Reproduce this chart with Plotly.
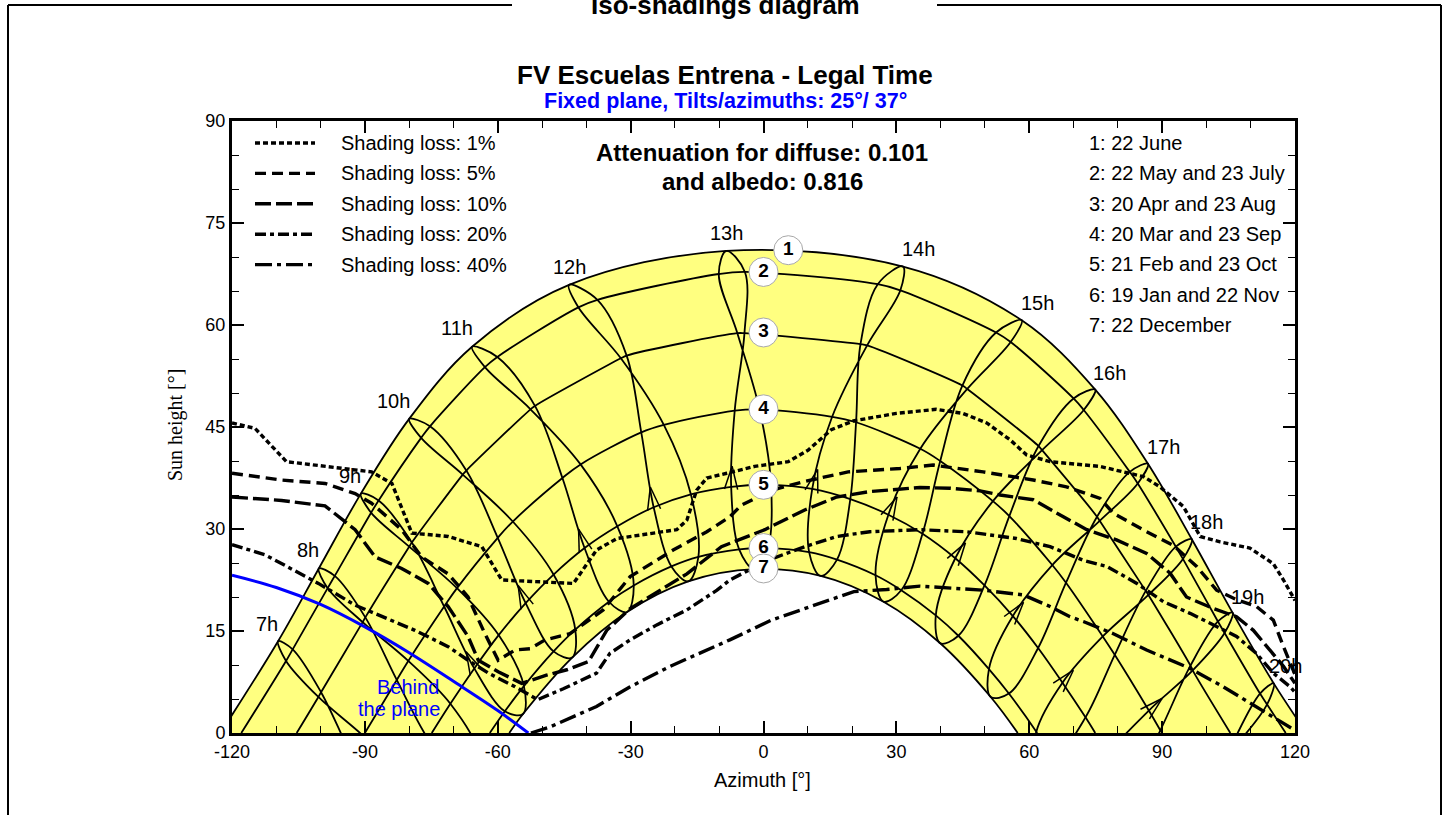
import math
import plotly.graph_objects as go

# ---------------------------------------------------------------------------
# Data
# ---------------------------------------------------------------------------
HOURS = list(range(7, 21))
HOUR_LABELS = [f"{h}h" for h in HOURS]

# Sun position (azimuth, height in degrees) at each legal hour 7h..20h
AZ_DEC22 = [-73.5, -64.2, -54.3, -43.2, -30.8, -17.0, -2.1, 12.9, 27.1, 39.9, 51.3, 61.5, 71.0, 80.1]
EL_DEC22 = [-17.0, -6.7, 2.8, 11.1, 17.8, 22.3, 24.1, 23.1, 19.3, 13.2, 5.3, -4.0, -14.1, -24.8]
AZ_JAN19 = [-77.9, -68.4, -58.4, -47.4, -34.9, -20.8, -5.5, 10.3, 25.3, 38.9, 50.9, 61.6, 71.4, 80.8]
EL_JAN19 = [-17.3, -6.7, 3.2, 12.0, 19.3, 24.5, 27.0, 26.6, 23.2, 17.3, 9.4, 0.2, -9.9, -20.7]
AZ_FEB21 = [-85.7, -75.7, -65.3, -53.7, -40.4, -24.8, -7.3, 11.0, 28.2, 43.3, 56.3, 67.5, 77.8, 87.8]
EL_FEB21 = [-11.8, -0.9, 9.5, 19.1, 27.2, 33.2, 36.2, 35.9, 32.1, 25.7, 17.2, 7.4, -3.1, -14.1]
AZ_MAR20 = [-93.0, -82.8, -72.1, -60.0, -45.4, -27.6, -6.5, 15.5, 35.4, 51.8, 65.2, 76.6, 87.0, 97.2]
EL_MAR20 = [-3.3, 7.8, 18.6, 28.7, 37.5, 44.2, 47.4, 46.5, 41.8, 34.1, 24.7, 14.2, 3.3, -7.8]
AZ_APR20 = [-99.9, -89.9, -79.4, -67.1, -51.6, -30.9, -4.3, 23.4, 46.0, 62.9, 75.9, 86.9, 96.9, 106.9]
EL_APR20 = [6.0, 17.0, 28.0, 38.6, 48.1, 55.5, 58.8, 57.0, 50.6, 41.6, 31.2, 20.3, 9.2, -1.6]
AZ_MAY22 = [-106.3, -96.8, -86.9, -75.3, -60.1, -37.5, -4.2, 30.9, 55.8, 72.3, 84.5, 94.7, 104.1, 113.7]
EL_MAY22 = [12.3, 23.1, 34.2, 45.1, 55.3, 63.7, 67.8, 65.1, 57.5, 47.5, 36.7, 25.6, 14.7, 4.2]
AZ_JUN22 = [-109.6, -100.4, -90.9, -80.0, -65.8, -43.9, -8.4, 31.5, 58.3, 74.9, 86.8, 96.7, 105.9, 115.2]
EL_JUN22 = [13.5, 24.2, 35.2, 46.2, 56.8, 65.9, 70.9, 68.6, 60.7, 50.5, 39.6, 28.5, 17.7, 7.3]
AZ_JUL23 = [-107.8, -98.4, -88.6, -77.3, -62.9, -41.8, -10.1, 25.8, 52.5, 70.0, 82.7, 93.1, 102.6, 112.1]
EL_JUL23 = [10.6, 21.3, 32.4, 43.4, 53.8, 62.6, 67.5, 66.0, 58.9, 49.2, 38.4, 27.4, 16.4, 5.8]
AZ_AUG23 = [-100.5, -90.5, -80.0, -67.9, -52.6, -32.2, -5.9, 21.9, 44.9, 62.1, 75.3, 86.3, 96.4, 106.3]
EL_AUG23 = [5.3, 16.3, 27.4, 38.0, 47.6, 55.1, 58.8, 57.2, 51.1, 42.2, 31.8, 20.9, 9.9, -1.0]
AZ_SEP23 = [-90.4, -80.2, -69.2, -56.6, -41.3, -22.5, -0.9, 20.9, 39.9, 55.5, 68.3, 79.3, 89.6, 99.8]
EL_SEP23 = [-0.4, 10.6, 21.3, 31.1, 39.5, 45.3, 47.6, 45.7, 40.0, 31.9, 22.1, 11.5, 0.4, -10.6]
AZ_OCT23 = [-80.8, -70.7, -59.8, -47.4, -33.0, -16.4, 1.7, 19.6, 35.9, 49.9, 62.0, 72.7, 82.7, 92.7]
EL_OCT23 = [-6.4, 4.3, 14.4, 23.3, 30.4, 35.1, 36.5, 34.4, 29.3, 21.7, 12.5, 2.3, -8.5, -19.5]
AZ_NOV22 = [-74.0, -64.4, -54.1, -42.5, -29.3, -14.7, 1.0, 16.6, 31.1, 44.0, 55.4, 65.7, 75.2, 84.7]
EL_NOV22 = [-12.9, -2.6, 6.9, 15.2, 21.7, 25.9, 27.2, 25.5, 21.0, 14.3, 5.8, -3.8, -14.3, -25.2]

# Sunrise / sunset azimuth of each date path (1..7)
SUNRISE_AZ = [122.6, 117.9, 105.4, 90.0, 74.9, 61.8, 57.4]

DATE_LEGEND = ["1: 22 June", "2: 22 May and 23 July", "3: 20 Apr and 23 Aug",
               "4: 20 Mar and 23 Sep", "5: 21 Feb and 23 Oct", "6: 19 Jan and 22 Nov",
               "7: 22 December"]
DATE_TAG_AZ = [5.6, 0.0, 0.0, 0.0, 0.0, 0.0, 0.0]
DATE_TAG_EL = [71.0, 67.8, 58.9, 47.6, 36.5, 27.2, 24.2]

HOUR_LABEL_AZ = [-112.0, -102.8, -93.4, -83.6, -69.3, -43.9, -8.3, 35.1, 61.8, 78.1, 90.2, 100.1, 109.2, 117.9]
HOUR_LABEL_EL = [16.1, 26.9, 37.8, 48.8, 59.6, 68.5, 73.5, 71.2, 63.3, 53.0, 42.1, 31.0, 20.0, 9.8]

X_TICKS = [-120, -90, -60, -30, 0, 30, 60, 90, 120]
Y_TICKS = [0, 15, 30, 45, 60, 75, 90]

# Iso-shading curves
ISO_LABELS = ["Shading loss: 1%", "Shading loss: 5%", "Shading loss: 10%",
              "Shading loss: 20%", "Shading loss: 40%"]
ISO_1_AZ = [-120, -114.8, -107.7, -95.2, -88.5, -83.9, -79.4, -71.2, -63.6, -59.1, -52.7, -42.9,
            -37.7, -33.1, -19.6, -17.3, -15.1, -12.8, -8.3, -2.0, 5.6, 10.1, 15.3, 20.3, 30.0,
            39.0, 45.0, 50.4, 55.7, 59.4, 64.7, 76.0, 85.8, 89.5, 94.8, 98.6, 103.1, 109.8,
            115.1, 117.4, 120]
ISO_1_EL = [45.6, 44.8, 39.9, 38.9, 38.4, 36.7, 29.4, 28.9, 27.4, 22.5, 22.3, 22.0,
            26.9, 28.6, 29.9, 31.3, 35.7, 37.5, 38.2, 39.2, 39.9, 41.6, 44.6, 45.9, 47.0,
            47.6, 47.0, 45.6, 43.1, 40.9, 39.9, 39.2, 37.7, 36.2, 33.3, 28.9, 28.1, 27.2,
            24.9, 22.5, 19.5]
ISO_5_AZ = [-120, -108.8, -99.0, -92.2, -88.5, -81.7, -77.2, -71.2, -66.7, -62.9, -59.9, -56.1,
            -52.7, -49.3, -43.7, -36.2, -30.1, -20.4, -12.8, -7.6, -5.0, 1.8, 9.3, 19.1, 30.8,
            38.3, 49.6, 60.9, 68.4, 76.0, 79.0, 86.5, 92.5, 97.8, 102.3, 106.8, 111.3, 115.1,
            117.4, 119.3, 120]
ISO_5_EL = [38.2, 37.2, 36.7, 35.2, 33.8, 29.9, 25.9, 23.4, 20.0, 14.6, 10.7, 12.2,
            12.4, 13.7, 14.6, 18.1, 23.0, 26.9, 29.6, 31.8, 33.5, 35.7, 37.0, 38.4, 38.9,
            39.4, 38.4, 37.2, 36.2, 34.5, 32.3, 29.6, 27.6, 24.5, 21.0, 19.6, 18.6, 16.6,
            12.7, 9.8, 8.6]
ISO_10_AZ = [-120, -108.8, -99.0, -92.2, -87.7, -81.7, -75.7, -71.2, -66.7, -64.4, -59.9, -54.6,
             -49.0, -44.4, -39.5, -35.4, -30.1, -23.4, -17.3, -9.5, 0.3, 9.3, 16.5, 24.0, 35.3,
             42.1, 48.9, 53.4, 60.9, 67.7, 73.0, 79.7, 86.5, 91.8, 95.5, 101.6, 106.8, 110.6,
             113.6, 117.4, 120]
ISO_10_EL = [34.7, 34.2, 33.4, 29.9, 25.9, 24.2, 22.0, 18.6, 14.2, 10.7, 9.0, 7.3,
             8.5, 9.3, 10.5, 15.1, 18.3, 21.0, 23.4, 27.4, 29.9, 32.8, 34.7, 35.5, 36.1,
             36.0, 35.6, 35.0, 34.3, 31.8, 29.9, 28.4, 26.4, 23.5, 20.0, 18.3, 17.1, 15.1,
             12.7, 9.8, 7.3]
ISO_20_AZ = [-120, -112.5, -100.5, -92.2, -78.7, -71.2, -66.7, -62.1, -56.1, -51.0, -45.2, -37.7,
             -34.7, -30.1, -24.1, -17.3, -10.5, -7.6, 1.0, 9.3, 16.5, 24.0, 35.3, 45.8, 57.1,
             64.7, 72.2, 77.5, 84.3, 90.3, 96.3, 101.6, 106.8, 111.3, 115.1, 118.9, 120]
ISO_20_EL = [27.7, 26.2, 22.0, 18.8, 15.1, 12.7, 10.7, 8.8, 6.8, 4.9, 6.5, 8.8,
             11.7, 13.7, 15.9, 18.1, 21.0, 22.5, 25.4, 27.4, 28.9, 29.6, 29.9, 29.6, 28.6,
             27.4, 25.4, 24.5, 22.0, 19.3, 17.6, 15.9, 14.2, 11.7, 8.8, 6.8, 6.0]
ISO_40_AZ = [-52.5, -48.2, -37.7, -30.1, -21.1, -12.8, -7.6, 1.8, 13.1, 20.4, 27.8, 35.3, 49.6,
             58.7, 64.7, 69.2, 72.2, 79.0, 86.5, 96.3, 103.8, 111.3, 119.3, 120]
ISO_40_EL = [0.0, 0.9, 3.9, 6.8, 9.8, 12.2, 13.7, 16.6, 19.1, 20.8, 21.1, 21.6, 21.0,
             20.3, 18.6, 17.1, 16.4, 14.6, 12.2, 9.5, 6.8, 3.9, 0.7, 0.4]

# Plane horizon (sun behind the collector plane below this line)
BEHIND_AZ = [-120, -110, -100, -90, -80, -70, -60, -53.1]
BEHIND_EL = [23.2, 21.4, 18.9, 15.6, 11.8, 7.6, 3.3, 0.0]

# ---------------------------------------------------------------------------
# Figure geometry and styles
# ---------------------------------------------------------------------------
W, H = 1450, 815
ML, MR, MT, MB = 232, 155, 121, 82
PW, PH = W - ML - MR, H - MT - MB
X_RANGE = [-120, 120]
Y_RANGE = [0, 90]
PX_X = PW / (X_RANGE[1] - X_RANGE[0])
PX_Y = PH / (Y_RANGE[1] - Y_RANGE[0])

FONT = "Liberation Sans, Arial, sans-serif"
SERIF = "Liberation Serif, Times New Roman, serif"
YELLOW = "#FFFF80"
BLUE = "#0000FF"
ISO_DASHES = ["5px,3px", "11px,6px", "16px,5px", "11px,4px,4px,4px", "17px,5px,4px,5px"]
ISO_WIDTH = 3.4
THIN = 1.8


def pxx(x):
    return (x - ML) / PW


def pxy(y):
    return (H - MB - y) / PH


YEAR = [(AZ_DEC22, EL_DEC22), (AZ_JAN19, EL_JAN19), (AZ_FEB21, EL_FEB21),
        (AZ_MAR20, EL_MAR20), (AZ_APR20, EL_APR20), (AZ_MAY22, EL_MAY22),
        (AZ_JUN22, EL_JUN22), (AZ_JUL23, EL_JUL23), (AZ_AUG23, EL_AUG23),
        (AZ_SEP23, EL_SEP23), (AZ_OCT23, EL_OCT23), (AZ_NOV22, EL_NOV22)]
DATE_GROUPS = [[(AZ_JUN22, EL_JUN22)],
               [(AZ_MAY22, EL_MAY22), (AZ_JUL23, EL_JUL23)],
               [(AZ_APR20, EL_APR20), (AZ_AUG23, EL_AUG23)],
               [(AZ_MAR20, EL_MAR20), (AZ_SEP23, EL_SEP23)],
               [(AZ_FEB21, EL_FEB21), (AZ_OCT23, EL_OCT23)],
               [(AZ_JAN19, EL_JAN19), (AZ_NOV22, EL_NOV22)],
               [(AZ_DEC22, EL_DEC22)]]


def date_curve(k):
    pts = [(a, e) for az, el in DATE_GROUPS[k] for a, e in zip(az, el) if e >= 0]
    pts += [(-SUNRISE_AZ[k], 0.0), (SUNRISE_AZ[k], 0.0)]
    pts.sort()
    return [p[0] for p in pts], [p[1] for p in pts]


fig = go.Figure()
thin = dict(color="black", width=THIN, shape="spline")

# yellow band between the 22 June and 22 December paths
cx, cy = date_curve(0)
fig.add_trace(go.Scatter(x=cx, y=cy, mode="lines", line=thin, fill="tozeroy",
                         fillcolor=YELLOW, hoverinfo="skip"))
cx, cy = date_curve(6)
fig.add_trace(go.Scatter(x=cx, y=cy, mode="lines", line=thin, fill="tozeroy",
                         fillcolor="white", hoverinfo="skip"))
for k in range(1, 6):
    cx, cy = date_curve(k)
    fig.add_trace(go.Scatter(x=cx, y=cy, mode="lines", line=thin, hoverinfo="skip"))

# hour analemmas (Dec -> Jun -> Dec)
for i, h in enumerate(HOURS):
    lx = [d[0][i] for d in YEAR] + [YEAR[0][0][i]]
    ly = [d[1][i] for d in YEAR] + [YEAR[0][1][i]]
    fig.add_trace(go.Scatter(x=lx, y=ly, mode="lines", line=thin, hoverinfo="skip"))

# direction arrows on the analemmas
ARROW_SEG = {9: (2, 0.27), 10: (2, 0.27), 11: (2, 0.27), 12: (2, 0.27), 13: (2, 0.27),
             14: (2, 0.27), 15: (2, 0.27), 16: (2, 0.27), 17: (2, 0.27), 18: (2, 0.27),
             19: (3, 0.3)}
ARROW_LEN = 24.0
ARROW_HALF = math.radians(16)
ax_, ay_ = [], []
for h, (d, f) in ARROW_SEG.items():
    i = HOURS.index(h)
    a0, e0 = YEAR[d][0][i], YEAR[d][1][i]
    a1, e1 = YEAR[d + 1][0][i], YEAR[d + 1][1][i]
    ta, te = a0 + f * (a1 - a0), e0 + f * (e1 - e0)
    dx, dy = (a1 - a0) * PX_X, (e1 - e0) * PX_Y
    n = math.hypot(dx, dy)
    ux, uy = dx / n, dy / n
    for s in (1, -1):
        c, sn = math.cos(s * ARROW_HALF), math.sin(s * ARROW_HALF)
        rx, ry = ux * c - uy * sn, ux * sn + uy * c
        ax_ += [ta - ARROW_LEN * rx / PX_X, ta, None]
        ay_ += [te - ARROW_LEN * ry / PX_Y, te, None]
fig.add_trace(go.Scatter(x=ax_, y=ay_, mode="lines", line=dict(color="black", width=1.5),
                         hoverinfo="skip"))

# iso-shading curves
ISO = [(ISO_1_AZ, ISO_1_EL), (ISO_5_AZ, ISO_5_EL), (ISO_10_AZ, ISO_10_EL),
       (ISO_20_AZ, ISO_20_EL), (ISO_40_AZ, ISO_40_EL)]
for (az, el), dash, name in zip(ISO, ISO_DASHES, ISO_LABELS):
    fig.add_trace(go.Scatter(x=az, y=el, mode="lines", name=name,
                             line=dict(color="black", width=ISO_WIDTH, dash=dash),
                             hoverinfo="skip"))

# plane horizon
fig.add_trace(go.Scatter(x=BEHIND_AZ, y=BEHIND_EL, mode="lines",
                         line=dict(color=BLUE, width=3, shape="spline"), hoverinfo="skip"))

# numbered date tags
fig.add_trace(go.Scatter(x=DATE_TAG_AZ, y=DATE_TAG_EL, mode="markers+text",
                         text=[f"<b>{k + 1}</b>" for k in range(7)],
                         textposition="middle center",
                         textfont=dict(family=FONT, size=19, color="black"),
                         marker=dict(size=29, color="white", line=dict(color="#A8A8A8", width=1)),
                         cliponaxis=False, hoverinfo="skip"))

annotations = []
for txt, a, e in zip(HOUR_LABELS, HOUR_LABEL_AZ, HOUR_LABEL_EL):
    annotations.append(dict(x=a, y=e, xref="x", yref="y", text=txt,
                            font=dict(family=FONT, size=20, color="black")))
annotations.append(dict(x=-80.3, y=6.8, xref="x", yref="y", text="Behind",
                        font=dict(family=FONT, size=20, color=BLUE)))
annotations.append(dict(x=-82.3, y=3.5, xref="x", yref="y", text="the plane",
                        font=dict(family=FONT, size=20, color=BLUE)))

# titles
annotations += [
    dict(x=pxx(725), y=pxy(5), text="<b>Iso-shadings diagram</b>",
         font=dict(family=FONT, size=26, color="black")),
    dict(x=pxx(725), y=pxy(75), text="<b>FV Escuelas Entrena - Legal Time</b>",
         font=dict(family=FONT, size=26, color="black")),
    dict(x=pxx(725), y=pxy(101), text="<b>Fixed plane, Tilts/azimuths: 25°/ 37°</b>",
         font=dict(family=FONT, size=21.5, color=BLUE)),
    dict(x=pxx(762), y=pxy(152), text="<b>Attenuation for diffuse: 0.101</b>",
         font=dict(family=FONT, size=24, color="black")),
    dict(x=pxx(762), y=pxy(181), text="<b>and albedo: 0.816</b>",
         font=dict(family=FONT, size=24, color="black")),
    dict(x=pxx(175), y=pxy(425), text="Sun height [°]", textangle=-90,
         font=dict(family=SERIF, size=20, color="black")),
    dict(x=pxx(762), y=pxy(780), text="Azimuth [°]",
         font=dict(family=FONT, size=20, color="black")),
]
for j, txt in enumerate(DATE_LEGEND):
    annotations.append(dict(x=pxx(1087), y=pxy(143 + 30.3 * j), text=txt, xanchor="left",
                            font=dict(family=FONT, size=20, color="black")))
shapes = []
for j, (txt, dash) in enumerate(zip(ISO_LABELS, ISO_DASHES)):
    yy = pxy(143 + 30.4 * j)
    annotations.append(dict(x=pxx(339), y=yy, text=txt, xanchor="left",
                            font=dict(family=FONT, size=20, color="black")))
    shapes.append(dict(type="line", xref="paper", yref="paper", x0=pxx(255), x1=pxx(315),
                       y0=yy, y1=yy, line=dict(color="black", width=ISO_WIDTH, dash=dash)))
for a in annotations:
    a.setdefault("xref", "paper")
    a.setdefault("yref", "paper")
    a.setdefault("xanchor", "center")
    a["yanchor"] = "middle"
    a["showarrow"] = False

# outer page frame
frame = dict(color="black", width=2)
for x0, y0, x1, y1 in [(8, 5, 512, 5), (937, 5, 1441, 5), (8, 5, 8, 815), (1441, 5, 1441, 815)]:
    shapes.append(dict(type="line", xref="paper", yref="paper", x0=pxx(x0), y0=pxy(y0),
                       x1=pxx(x1), y1=pxy(y1), line=frame))

axis_common = dict(showgrid=False, zeroline=False, showline=True, linecolor="black",
                   linewidth=3, mirror="allticks", ticks="inside", ticklen=12, tickwidth=1.5,
                   tickcolor="black", tickfont=dict(family=FONT, size=18, color="black"))
fig.update_layout(
    width=W, height=H, margin=dict(l=ML, r=MR, t=MT, b=MB),
    paper_bgcolor="white", plot_bgcolor="white", showlegend=False,
    xaxis=dict(range=X_RANGE, tickvals=X_TICKS, ticktext=[str(v) for v in X_TICKS],
               minor=dict(dtick=10, ticks="inside", ticklen=7, tickwidth=1.2, tickcolor="black"),
               **axis_common),
    yaxis=dict(range=Y_RANGE, tickvals=Y_TICKS, ticktext=[str(v) for v in Y_TICKS],
               minor=dict(dtick=5, ticks="inside", ticklen=7, tickwidth=1.2, tickcolor="black"),
               **axis_common),
    annotations=annotations, shapes=shapes,
)

fig.write_html("out.html", config={"displayModeBar": False})
